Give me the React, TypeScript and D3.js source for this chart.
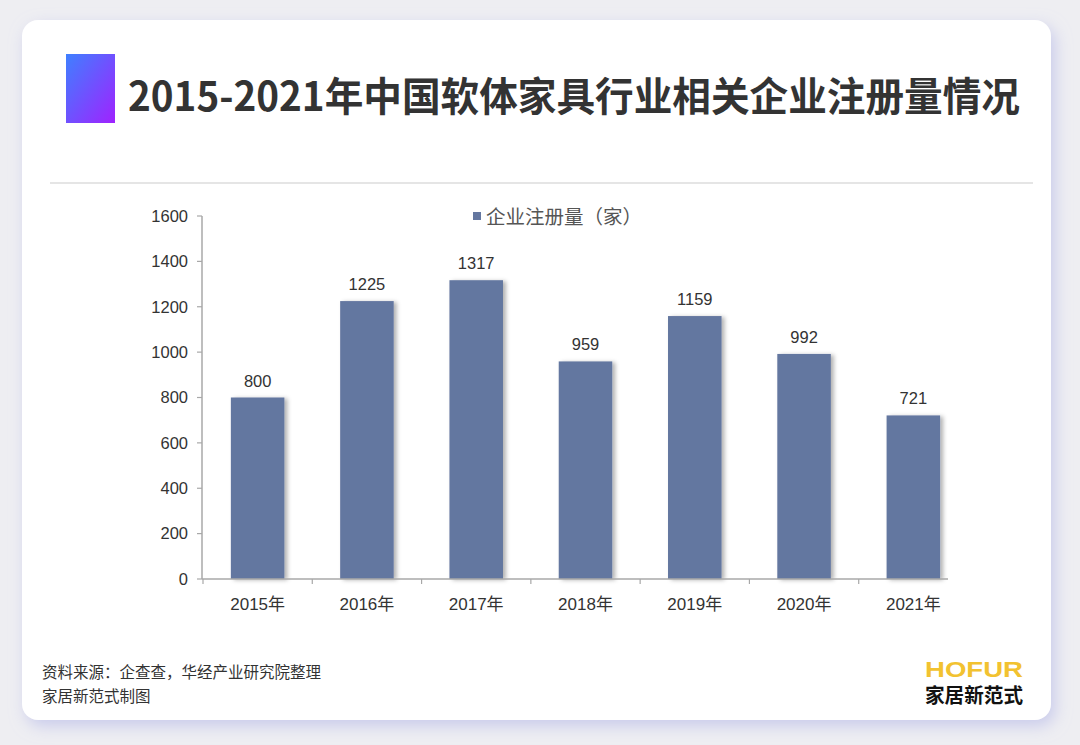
import React from "react";
import * as d3 from "d3";

const years = ["2015年", "2016年", "2017年", "2018年", "2019年", "2020年", "2021年"];
const values = [800, 1225, 1317, 959, 1159, 992, 721];
const yTicks = [0, 200, 400, 600, 800, 1000, 1200, 1400, 1600];
const title = "2015-2021年中国软体家具行业相关企业注册量情况";
const legendLabel = "企业注册量（家）";
const sourceLines = ["资料来源：企查查，华经产业研究院整理", "家居新范式制图"];

export default function App() {
  const W = 1080, H = 745;
  const x = d3.scaleBand<string>().domain(years).range([203, 968]).padding(0);
  const y = d3.scaleLinear().domain([0, 1600]).range([579, 216]);
  const bw = x.bandwidth();
  const sans = "'Liberation Sans', Arial, 'Noto Sans CJK SC', sans-serif";
  const cjk = "'Noto Sans CJK SC', sans-serif";

  return (
    <svg width={W} height={H} style={{ position: "absolute", left: 0, top: 0, display: "block" }}>
      <defs>
        <linearGradient id="sq" x1="0" y1="0" x2="1" y2="1">
          <stop offset="0%" stopColor="#3f80ff" />
          <stop offset="100%" stopColor="#a022ff" />
        </linearGradient>
        <filter id="cardShadow" x="-10%" y="-10%" width="120%" height="125%">
          <feDropShadow dx="4" dy="6" stdDeviation="8" floodColor="#b9bce8" floodOpacity="0.7" />
        </filter>
        <filter id="barShadow" x="-20%" y="-10%" width="150%" height="120%">
          <feDropShadow dx="3" dy="1" stdDeviation="2" floodColor="#000" floodOpacity="0.3" />
        </filter>
      </defs>
      <rect x={0} y={0} width={W} height={H} fill="#eeeef2" />
      <rect x={22} y={20} width={1029} height={700} rx={16} fill="#ffffff" filter="url(#cardShadow)" />
      <rect x={66} y={54} width={49} height={69} fill="url(#sq)" />
      <text x={128} y={111} fontFamily={cjk} fontWeight={700} fontSize={40} fill="#333"
        textLength={892} lengthAdjust="spacingAndGlyphs">{title}</text>
      <line x1={50} x2={1033} y1={183} y2={183} stroke="#dcdcdc" strokeWidth={1.5} />

      {/* legend */}
      <rect x={473} y={212} width={8} height={8} fill="#6477a0" />
      <text x={486} y={224} fontFamily={cjk} fontSize={19.5} fill="#555">{legendLabel}</text>

      {/* y axis */}
      <line x1={202} x2={202} y1={y(1600)} y2={y(0)} stroke="#a8a8a8" strokeWidth={1.5} />
      {yTicks.map((t) => (
        <g key={t}>
          <line x1={197} x2={202} y1={y(t)} y2={y(t)} stroke="#a8a8a8" strokeWidth={1.2} />
          <text x={188} y={y(t)} dy="0.35em" textAnchor="end" fontFamily={sans} fontSize={16.5} fill="#333">{t}</text>
        </g>
      ))}

      {/* bars */}
      {years.map((yr, i) => (
        <g key={yr}>
          <rect x={x(yr)! + bw * 0.255} y={y(values[i])} width={bw * 0.49} height={y(0) - y(values[i])}
            fill="#6477a0" filter="url(#barShadow)" />
          <text x={x(yr)! + bw / 2} y={y(values[i]) - 11} textAnchor="middle" fontFamily={sans} fontSize={16.5} fill="#333">{values[i]}</text>
          <text x={x(yr)! + bw / 2} y={610} textAnchor="middle" fontFamily={sans} fontSize={17} fill="#333">{yr}</text>
        </g>
      ))}

      {/* x axis */}
      <line x1={202} x2={948} y1={579} y2={579} stroke="#a8a8a8" strokeWidth={1.5} />
      {years.map((yr) => (
        <line key={"t" + yr} x1={x(yr)!} x2={x(yr)!} y1={579} y2={584} stroke="#a8a8a8" strokeWidth={1.2} />
      ))}

      {/* footer */}
      {sourceLines.map((s, i) => (
        <text key={s} x={42} y={678 + i * 24} fontFamily={cjk} fontSize={15.5} fill="#333">{s}</text>
      ))}
      <text x={925} y={677} fontFamily={sans} fontWeight={700} fontSize={22} fill="#f2c230"
        textLength={98} lengthAdjust="spacingAndGlyphs">HOFUR</text>
      <text x={925} y={703} fontFamily={cjk} fontWeight={700} fontSize={20} fill="#111"
        textLength={98} lengthAdjust="spacingAndGlyphs">家居新范式</text>
    </svg>
  );
}
